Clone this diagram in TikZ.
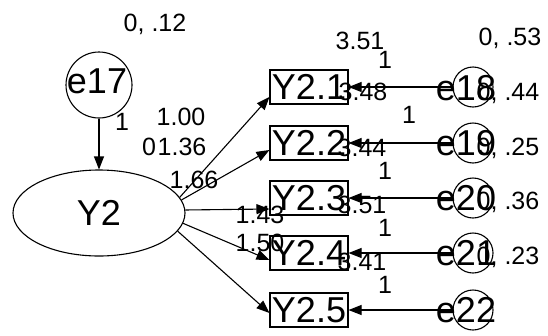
\documentclass[tikz,border=0pt]{standalone}
\usepackage{fontspec}
\setmainfont{Liberation Sans}
\usetikzlibrary{shapes.geometric}
\usetikzlibrary{arrows.meta}
\usetikzlibrary{calc}

\begin{document}
\begin{tikzpicture}[x=1pt, y=-1pt, line width=1.1pt,
	big/.style={font=\fontsize{36}{36}\selectfont},
	small/.style={font=\fontsize{25}{25}\selectfont},
	latent/.style={draw, ellipse, minimum width=172pt, minimum height=86pt, inner sep=0pt},
	obs/.style={draw, rectangle, minimum width=78pt, minimum height=34pt, inner sep=0pt},
	err/.style={draw, circle, inner sep=0pt, minimum size=40pt},
	arr/.style={-{Triangle[length=13pt,width=10pt]}}]
	\useasboundingbox (0,0) rectangle (548,335);

	% latent variable and its error
	\node[latent, big] (Y2) at (99,213) {Y2};
	\node[err, minimum size=66pt] (e17) at (99,85) {};
	\node[big] (e17t) at (97,81) {e17};
	\draw[arr] (e17) -- (Y2);

	% indicators
	\node[obs, big] (Y21) at (309,87) {Y2.1};
	\node[obs, big] (Y22) at (309,143) {Y2.2};
	\node[obs, big] (Y23) at (309,198) {Y2.3};
	\node[obs, big] (Y24) at (309,253) {Y2.4};
	\node[obs, big] (Y25) at (309,310) {Y2.5};

	\draw[arr] (Y2.11) -- ($(Y21.west)+(0,10)$);
	\draw[arr] (Y2.9) -- ($(Y22.west)+(0,7)$);
	\draw[arr] (Y2.2) -- ($(Y23.west)+(0,11)$);
	\draw[arr] (Y2.-7) -- ($(Y24.west)+(0,7)$);
	\draw[arr] (Y2.-13) -- ($(Y25.west)+(0,3)$);

	% error terms
	\node[err] (e18) at (473,87) {};
	\node[err] (e19) at (473,143) {};
	\node[err] (e20) at (473,198) {};
	\node[err] (e21) at (473,253) {};
	\node[err] (e22) at (473,310) {};
	\node[big] (e18t) at (466,88) {e18};
	\node[big] (e19t) at (466,143) {e19};
	\node[big] (e20t) at (466,198) {e20};
	\node[big] (e21t) at (466,253) {e21};
	\node[big] (e22t) at (466,310) {e22};

	\draw[arr] (e18) -- (Y21.east);
	\draw[arr] (e19) -- (Y22.east);
	\draw[arr] (e20) -- (Y23.east);
	\draw[arr] (e21) -- (Y24.east);
	\draw[arr] (e22) -- (Y25.east);

	% estimates
	\node[small] (v17) at (155,24) {0, .12};
	\node[small] (w17) at (122,122) {1};
	\node[small] (m2) at (149,147) {0};
	\node[small] (l1) at (181,117) {1.00};
	\node[small] (l2) at (182,147) {1.36};
	\node[small] (l3) at (194,180) {1.66};
	\node[small] (l4) at (260,215) {1.43};
	\node[small] (l5) at (260,243) {1.50};

	\node[small] (i1) at (360,41) {3.51};
	\node[small] (i2) at (363,92) {3.48};
	\node[small] (i3) at (362,148) {3.44};
	\node[small] (i4) at (362,205) {3.51};
	\node[small] (i5) at (362,262) {3.41};

	\node[small] (w18) at (385,60) {1};
	\node[small] (w19) at (409,115) {1};
	\node[small] (w20) at (385,171) {1};
	\node[small] (w21) at (385,228) {1};
	\node[small] (w22) at (385,285) {1};

	\node[small] (v18) at (510,38) {0, .53};
	\node[small] (v19) at (508,93) {0, .44};
	\node[small] (v20) at (508,148) {0, .25};
	\node[small] (v21) at (508,202) {0, .36};
	\node[small] (v22) at (508,257) {0, .23};
\end{tikzpicture}
\end{document}
